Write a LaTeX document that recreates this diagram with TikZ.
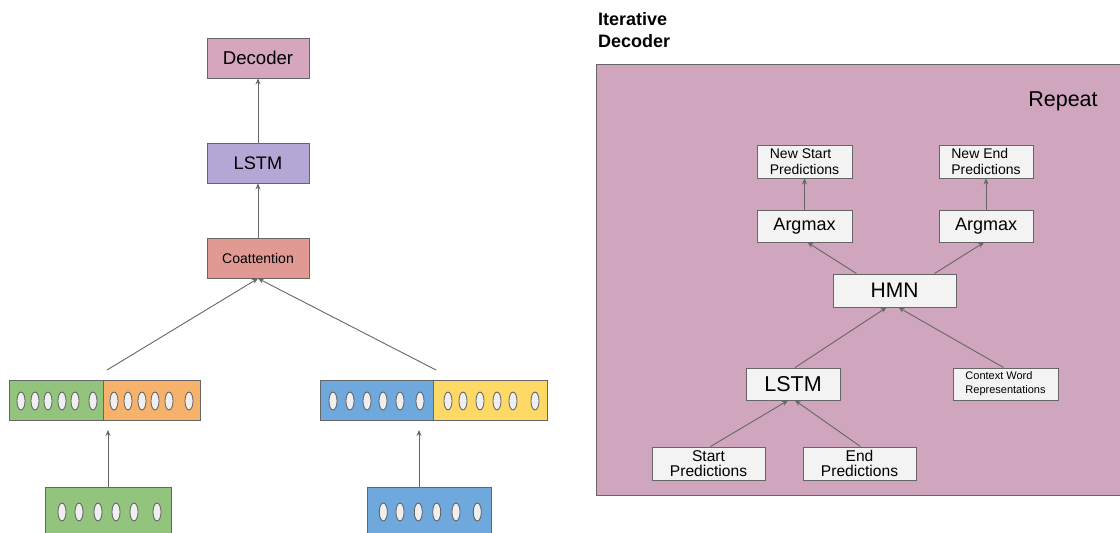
\documentclass[tikz,border=0pt]{standalone}
\usepackage{fontspec}
\setmainfont{Liberation Sans}
\usetikzlibrary{arrows.meta}
\definecolor{edge}{HTML}{666666}
\definecolor{bigpink}{RGB}{207,166,189}
\definecolor{decpink}{HTML}{D5A6BD}
\definecolor{lstmpurple}{HTML}{B4A7D6}
\definecolor{coatred}{HTML}{E09A93}
\definecolor{vgreen}{HTML}{93C47D}
\definecolor{vorange}{HTML}{F6B26B}
\definecolor{vblue}{HTML}{6FA8DC}
\definecolor{vyellow}{HTML}{FFD966}
\definecolor{boxgray}{HTML}{F3F3F3}
\definecolor{cellgray}{HTML}{EFEFEF}
\tikzset{
  blk/.style={draw=edge, line width=0.9pt, inner sep=0pt, align=center},
  lbox/.style={blk, minimum width=102pt, minimum height=40pt},
  gbox/.style={blk, fill=boxgray},
  arr/.style={draw=edge, line width=0.9pt, -{Stealth[length=6pt,width=5pt]}},
  cell/.style={draw=edge!90!black, line width=0.8pt, fill=cellgray},
  fs/.style n args={2}{font=\fontsize{#1}{#2}\selectfont}
}
\begin{document}
\begin{tikzpicture}[x=1pt,y=-1pt]
\useasboundingbox (0,0) rectangle (1120,533);
\fill[white] (0,0) rectangle (1120,533);

% ---------- left side ----------
\node[lbox, fill=decpink, fs={18.6}{22}] (dec) at (258,58) {Decoder};
\node[lbox, fill=lstmpurple, fs={18.2}{22}] (lstmA) at (258,163) {LSTM};
\node[lbox, fill=coatred, fs={14}{17}] (coat) at (258,258) {Coattention};

\node[blk, fill=vgreen, minimum width=94pt, minimum height=40pt] (qg) at (56.5,400) {};
\node[blk, fill=vorange, minimum width=97pt, minimum height=40pt] (qo) at (151.5,400) {};
\node[blk, fill=vblue, minimum width=113pt, minimum height=40pt] (db) at (376.5,400) {};
\node[blk, fill=vyellow, minimum width=114pt, minimum height=40pt] (dy) at (490,400) {};

\node[blk, fill=vgreen, minimum width=126pt, minimum height=60pt, anchor=north] (qin) at (108,487) {};
\node[blk, fill=vblue, minimum width=124pt, minimum height=60pt, anchor=north] (din) at (429,487) {};

\foreach \x in {21,35,48,62,75,93,114,128,142,155,169,189,333,350,367,383,400,420,448,463,480,497,513,535}
  \draw[cell] (\x,401) ellipse (4pt and 9pt);
\foreach \x in {62,79,98,116,134,157,383.3,400,418.3,436.7,456,477.3}
  \draw[cell] (\x,512) ellipse (4pt and 9pt);

\coordinate (qup) at (108,430);
\coordinate (dup) at (419,430);
\coordinate (qtop) at (107,370);
\coordinate (dtop) at (436,370);
\draw[arr] (qin.north -| qup) -- (qup);
\draw[arr] (din.north -| dup) -- (dup);
\draw[arr] (qtop) -- (coat.south);
\draw[arr] (dtop) -- (coat.south);
\draw[arr] (coat) -- (lstmA);
\draw[arr] (lstmA) -- (dec);

% ---------- right side ----------
\node[anchor=north west, align=left, font=\bfseries\fontsize{18}{22.5}\selectfont, inner sep=0pt] (title) at (598,12) {Iterative\\Decoder};
\fill[bigpink] (596,64) rectangle (1125,495);
\draw[edge, line width=0.9pt] (1125,64) -- (596,64) -- (596,495) -- (1125,495);
\node[fs={21.5}{25}, inner sep=0pt] (rep) at (1063,101) {Repeat};

\node[gbox, minimum width=95pt, minimum height=33pt, fs={14}{16}, align=left] (nsp) at (804.5,161.5) {New Start\\Predictions};
\node[gbox, minimum width=94pt, minimum height=33pt, fs={14}{16}, align=left] (nep) at (986,161.5) {New End\\Predictions};
\node[gbox, minimum width=95pt, minimum height=32pt, fs={18}{21}] (amL) at (804.5,226) {Argmax};
\node[gbox, minimum width=94pt, minimum height=32pt, fs={18}{21}] (amR) at (986,226) {Argmax};
\node[gbox, minimum width=123pt, minimum height=33pt, fs={21}{24}] (hmn) at (894.5,290.5) {HMN};
\node[gbox, minimum width=94pt, minimum height=32pt, fs={21.5}{24}] (lstmB) at (793,384) {LSTM};
\node[gbox, minimum width=105pt, minimum height=32pt, fs={11}{14}, align=left] (cwr) at (1005.5,384) {Context Word\\Representations};
\node[gbox, minimum width=113pt, minimum height=33pt, fs={15.6}{17}] (sp) at (708.5,463.5) {\raisebox{-4pt}{\shortstack{Start\\Predictions}}};
\node[gbox, minimum width=113pt, minimum height=33pt, fs={15.6}{17}] (ep) at (859.5,463.5) {\raisebox{-4pt}{\shortstack{End\\Predictions}}};

\draw[arr] (amL) -- (nsp);
\draw[arr] (amR) -- (nep);
\draw[arr] ([xshift=-38pt]hmn.north) -- ([xshift=3pt]amL.south);
\draw[arr] ([xshift=40pt]hmn.north) -- ([xshift=-2pt]amR.south);
\draw[arr] ([xshift=2pt]lstmB.north) -- ([xshift=-8pt]hmn.south);
\draw[arr] ([xshift=-2pt]cwr.north) -- ([xshift=4pt]hmn.south);
\draw[arr] ([xshift=2pt]sp.north) -- ([xshift=-5pt]lstmB.south);
\draw[arr] ([xshift=1pt]ep.north) -- ([xshift=2pt]lstmB.south);
\end{tikzpicture}
\end{document}
